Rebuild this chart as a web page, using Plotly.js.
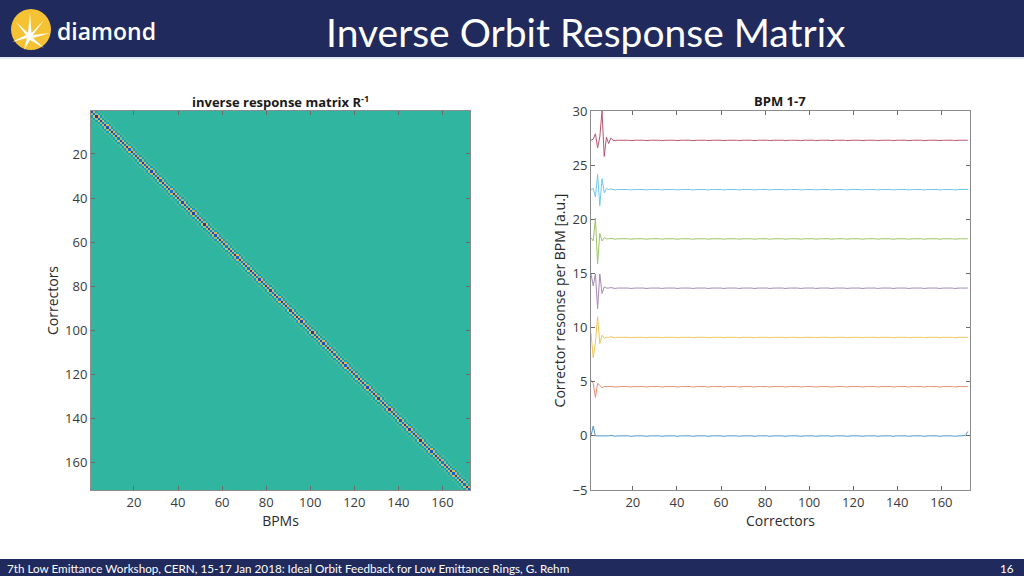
<!DOCTYPE html>
<html>
<head>
<meta charset="utf-8">
<script src="https://cdn.plot.ly/plotly-3.0.1.min.js"></script>
<style>
  body { margin: 0; background: #ffffff; }
  #plot { width: 1024px; height: 576px; }
</style>
</head>
<body>
<div id="plot"></div>
<script>
// number of BPMs / correctors in the matrix
var nBpm = 172;

// band around the diagonal of R^-1 (offsets -3..+3)
var band = [0.3, -0.7, 1.4, -2.4, 1.4, -0.7, 0.3];
// strength of the band per position inside a cell (7 BPMs per cell)
var cellGain = [1.0, 0.75, 1.2, 0.9, 1.1, 0.7, 1.05];

// right plot: vertical offset of each BPM trace
var offsets = [0, 4.55, 9.1, 13.65, 18.2, 22.75, 27.3];
// response to the first correctors, relative to the offset
var spikes = [
  [0, 0.9, 0],
  [0.6, 0.3, -1.0, 0.3, 0.1, -0.1, 0],
  [0.4, -1.9, -0.5, 1.9, -0.6, 0.2, -0.1, 0],
  [1.3, 0.2, 1.3, -1.9, 1.3, -0.5, 0.1, 0],
  [0.1, -0.2, 1.9, -2.3, 0.5, -0.2, 0.1, 0],
  [0, 0.1, -0.7, 1.4, -1.5, 1.0, -0.3, 0.1, 0],
  [0, 0.1, 0.6, -0.7, 0.3, 2.7, -1.5, 0.3, -0.3, 0.2, 0]
];
// tiny ripple seen along the flat part, repeating every cell
var cellRipple = [0, 0, 0.05, 0, -0.04, 0, 0];
// value at the last corrector (wrap-around)
var lastValue = [0.4, 0, 0, 0, 0, 0, 0];
var traceNames = ['BPM 1', 'BPM 2', 'BPM 3', 'BPM 4', 'BPM 5', 'BPM 6', 'BPM 7'];
var traceColors = ['#4f95cc', '#e48f74', '#f1c65a', '#a58ab4', '#9fc466', '#72c7ec', '#b9566e'];

var parula = [
  [0.0, '#352a87'], [0.125, '#0f5cdd'], [0.25, '#1481d6'], [0.375, '#06a4ca'],
  [0.5, '#2fb5a0'], [0.625, '#7fbf7b'], [0.75, '#d1bb59'], [0.875, '#fec832'], [1.0, '#f9fb0e']
];

// build the heatmap matrix
var idx = [];
for (var i = 1; i <= nBpm; i++) idx.push(i);
var z = [];
for (var r = 0; r < nBpm; r++) {
  var row = [];
  for (var c = 0; c < nBpm; c++) {
    var d = c - r;
    if (Math.abs(d) <= 3) row.push(band[d + 3] * cellGain[r % 7]);
    else row.push(0);
  }
  z.push(row);
}

var plot_data = [{
  type: 'heatmap',
  x: idx, y: idx, z: z,
  colorscale: parula, zmin: -3, zmax: 3,
  showscale: false,
  xaxis: 'x', yaxis: 'y',
  hoverinfo: 'none'
}];

for (var k = 0; k < 7; k++) {
  var ys = [];
  for (var j = 0; j < nBpm; j++) {
    var v = 0;
    if (j < spikes[k].length) v = spikes[k][j];
    else if (j == nBpm - 1) v = lastValue[k];
    else v = cellRipple[j % 7];
    ys.push(offsets[k] + v);
  }
  plot_data.push({
    type: 'scatter', mode: 'lines',
    x: idx, y: ys, name: traceNames[k],
    line: {color: traceColors[k], width: 1},
    xaxis: 'x2', yaxis: 'y2'
  });
}

var tickFont = {family: 'Open Sans, sans-serif', size: 13, color: '#3a3a3a'};
var titleFont = {family: 'Open Sans, sans-serif', size: 14, color: '#2a2a2a'};

function ax(extra) {
  var base = {
    showline: true, linecolor: '#8c8c8c', linewidth: 1, mirror: 'ticks',
    ticks: 'inside', ticklen: 4, tickcolor: '#6a6a6a',
    showgrid: false, zeroline: false, tickfont: tickFont
  };
  for (var key in extra) base[key] = extra[key];
  return base;
}

// pixel -> paper helpers for the slide decoration
function px(x) { return x / 1024; }
function py(y) { return 1 - y / 576; }
function pathPx(pts) {
  var s = '';
  for (var n = 0; n < pts.length; n++) {
    s += (n == 0 ? 'M ' : ' L ') + px(pts[n][0]) + ' ' + py(pts[n][1]);
  }
  return s + ' Z';
}
var starPts = [[30, 13], [31.5, 33], [44, 20], [33, 35], [50, 33], [33, 38], [44, 48], [30, 40],
  [24, 50], [27, 38], [12, 42], [26, 35], [16, 22], [28, 33]];

var layout = {
  width: 1024, height: 576,
  margin: {l: 0, r: 0, t: 0, b: 0},
  paper_bgcolor: '#ffffff', plot_bgcolor: '#ffffff',
  showlegend: false,
  xaxis: ax({domain: [px(91), px(470)], range: [0.5, 172.5], tickvals: [20, 40, 60, 80, 100, 120, 140, 160],
    title: {text: 'BPMs', font: titleFont, standoff: 3}, anchor: 'y'}),
  yaxis: ax({domain: [py(490), py(111)], range: [172.5, 0.5], tickvals: [20, 40, 60, 80, 100, 120, 140, 160],
    title: {text: 'Correctors', font: titleFont, standoff: 3}, anchor: 'x'}),
  xaxis2: ax({domain: [px(591), px(970)], range: [1, 173], tickvals: [20, 40, 60, 80, 100, 120, 140, 160],
    title: {text: 'Correctors', font: titleFont, standoff: 3}, anchor: 'y2'}),
  yaxis2: ax({domain: [py(490), py(111)], range: [-5, 30], tickvals: [-5, 0, 5, 10, 15, 20, 25, 30],
    title: {text: 'Corrector resonse per BPM [a.u.]', font: titleFont, standoff: 3}, anchor: 'x2'}),
  shapes: [
    {type: 'rect', xref: 'paper', yref: 'paper', x0: 0, x1: 1, y0: py(57), y1: 1, fillcolor: '#202a5c', line: {width: 0}},
    {type: 'line', xref: 'paper', yref: 'paper', x0: 0, x1: 1, y0: py(58), y1: py(58), line: {color: '#c9d3e6', width: 1}},
    {type: 'rect', xref: 'paper', yref: 'paper', x0: 0, x1: 1, y0: 0, y1: py(559), fillcolor: '#202a5c', line: {width: 0}},
    {type: 'circle', xref: 'paper', yref: 'paper', x0: px(11), x1: px(51), y0: py(50), y1: py(9), fillcolor: '#f4c233', line: {width: 0}},
    {type: 'path', xref: 'paper', yref: 'paper', path: pathPx(starPts), fillcolor: '#ffffff', line: {width: 0}}
  ],
  annotations: [
    {xref: 'paper', yref: 'paper', x: px(55), y: py(31), xanchor: 'left', yanchor: 'middle', showarrow: false,
      text: 'diamond', font: {family: 'Open Sans, sans-serif', size: 23, color: '#ffffff', weight: 600}},
    {xref: 'paper', yref: 'paper', x: px(585), y: py(32), xanchor: 'center', yanchor: 'middle', showarrow: false,
      text: 'Inverse Orbit Response Matrix', font: {family: 'Lato, sans-serif', size: 39, color: '#ffffff'}},
    {xref: 'paper', yref: 'paper', x: px(5), y: py(568), xanchor: 'left', yanchor: 'middle', showarrow: false,
      text: '7th Low Emittance Workshop, CERN, 15-17 Jan 2018: Ideal Orbit Feedback for Low Emittance Rings, G. Rehm',
      font: {family: 'Lato, sans-serif', size: 11.7, color: '#ffffff'}},
    {xref: 'paper', yref: 'paper', x: px(1016), y: py(568), xanchor: 'right', yanchor: 'middle', showarrow: false,
      text: '16', font: {family: 'Lato, sans-serif', size: 11.7, color: '#ffffff'}},
    {xref: 'paper', yref: 'paper', x: px(280), y: py(101), xanchor: 'center', yanchor: 'middle', showarrow: false,
      text: '<b>inverse response matrix R<sup>-1</sup></b>', font: {family: 'Open Sans, sans-serif', size: 13, color: '#1a1a1a'}},
    {xref: 'paper', yref: 'paper', x: px(780), y: py(101), xanchor: 'center', yanchor: 'middle', showarrow: false,
      text: '<b>BPM 1-7</b>', font: {family: 'Open Sans, sans-serif', size: 13, color: '#1a1a1a'}}
  ]
};

Plotly.newPlot('plot', plot_data, layout, {staticPlot: true});
</script>
</body>
</html>
